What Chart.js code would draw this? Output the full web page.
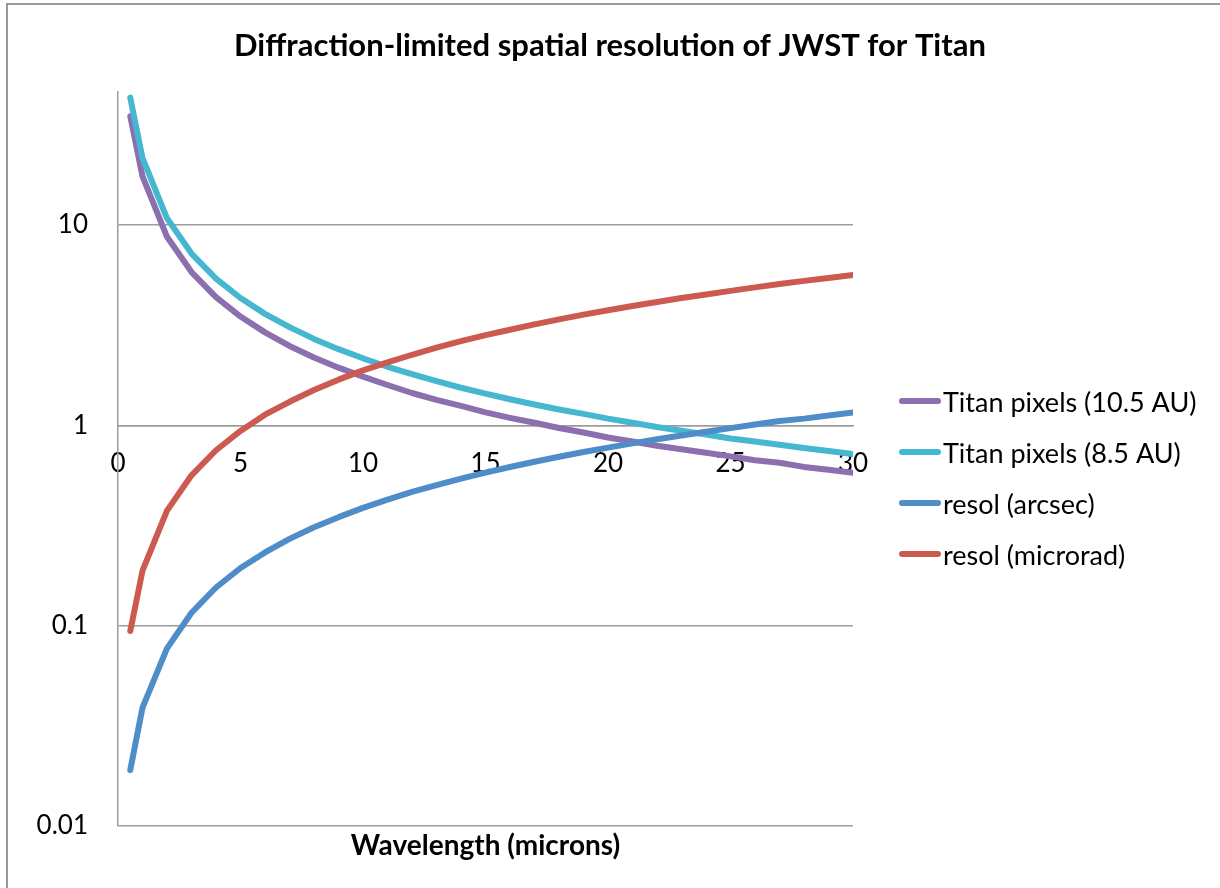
<!DOCTYPE html>
<html>
<head>
<meta charset="utf-8">
<script src="https://cdn.jsdelivr.net/npm/chart.js@4.4.1/dist/chart.umd.min.js"></script>
<style>
  html, body { margin: 0; padding: 0; background: #fff; }
  #wrap { width: 1220px; height: 888px; position: relative; }
</style>
</head>
<body>
<div id="wrap"><canvas id="chart" width="1220" height="888"></canvas></div>
<script>
// Wavelength in microns (x values)
const wavelengths = [0.5, 1, 2, 3, 4, 5, 6, 7, 8, 9, 10, 11, 12, 13, 14, 15,
  16, 17, 18, 19, 20, 21, 22, 23, 24, 25, 26, 27, 28, 29, 30];

// Series
const titanPixels105 = [34.9, 17.5, 8.73, 5.82, 4.36, 3.49, 2.91, 2.49, 2.18, 1.94, 1.75,
  1.59, 1.45, 1.34, 1.25, 1.16, 1.09, 1.03, 0.97, 0.92, 0.87, 0.83, 0.79, 0.76,
  0.73, 0.70, 0.67, 0.65, 0.62, 0.60, 0.58];
const titanPixels85 = [43.2, 21.6, 10.8, 7.2, 5.4, 4.32, 3.6, 3.09, 2.7, 2.4, 2.16,
  1.96, 1.8, 1.66, 1.54, 1.44, 1.35, 1.27, 1.2, 1.14, 1.08, 1.03, 0.98, 0.94,
  0.90, 0.86, 0.83, 0.80, 0.77, 0.745, 0.72];
const resolArcsec = [0.019, 0.039, 0.077, 0.116, 0.155, 0.194, 0.232, 0.271, 0.310, 0.348, 0.387,
  0.426, 0.465, 0.503, 0.542, 0.581, 0.619, 0.658, 0.697, 0.736, 0.774, 0.813,
  0.852, 0.890, 0.929, 0.968, 1.01, 1.05, 1.08, 1.12, 1.16];
const resolMicrorad = [0.094, 0.188, 0.375, 0.563, 0.751, 0.938, 1.13, 1.31, 1.50, 1.69, 1.88,
  2.06, 2.25, 2.44, 2.63, 2.82, 3.00, 3.19, 3.38, 3.57, 3.75, 3.94, 4.13, 4.32,
  4.50, 4.69, 4.88, 5.07, 5.26, 5.44, 5.63];

const seriesLabels = ['Titan pixels (10.5 AU)', 'Titan pixels (8.5 AU)', 'resol (arcsec)', 'resol (microrad)'];
const yTickValues = [0.01, 0.1, 1, 10];
const xTickLabels = [0, 5, 10, 15, 20, 25, 30];

const colors = {
  purple: '#8B6FAF',
  cyan: '#45B7D1',
  blue: '#4F8DC9',
  red: '#CD5A51',
  grid: '#9c9c9c'
};

const FONT = 'Lato, "Open Sans", sans-serif';

function toPoints(values) {
  return wavelengths.map((x, i) => ({ x: x, y: values[i] }));
}

function makeSeries(label, values, color, order) {
  return {
    label,
    data: toPoints(values),
    xAxisID: 'x',
    yAxisID: 'y',
    borderColor: color,
    backgroundColor: color,
    borderWidth: 6,
    borderCapStyle: 'round',
    borderJoinStyle: 'round',
    pointRadius: 0,
    tension: 0,
    fill: false,
    order
  };
}

// white background + outer frame
const frame = {
  id: 'frame',
  beforeDraw(chart) {
    const c = chart.ctx;
    c.save();
    c.fillStyle = '#fff';
    c.fillRect(0, 0, chart.width, chart.height);
    c.strokeStyle = '#9a9a9a';
    c.lineWidth = 2;
    c.strokeRect(7, 4, chart.width + 20, chart.height + 20);
    c.restore();
  }
};

// Excel style legend on the right
const sideLegend = {
  id: 'sideLegend',
  afterDraw(chart) {
    const c = chart.ctx;
    c.save();
    c.font = '27px ' + FONT;
    c.textBaseline = 'middle';
    c.fillStyle = '#000';
    chart.data.datasets.forEach((ds, i) => {
      const y = 401 + i * 51;
      c.strokeStyle = ds.borderColor;
      c.lineWidth = 6;
      c.lineCap = 'round';
      c.beginPath();
      c.moveTo(902, y);
      c.lineTo(938, y);
      c.stroke();
      c.fillText(ds.label, 943, y + 2);
    });
    c.restore();
  }
};

new Chart(document.getElementById('chart'), {
  type: 'line',
  data: {
    datasets: [
      makeSeries(seriesLabels[0], titanPixels105, colors.purple, 3),
      makeSeries(seriesLabels[1], titanPixels85, colors.cyan, 2),
      makeSeries(seriesLabels[2], resolArcsec, colors.blue, 1),
      makeSeries(seriesLabels[3], resolMicrorad, colors.red, 0)
    ]
  },
  options: {
    responsive: false,
    animation: false,
    layout: { padding: 0 },
    plugins: {
      legend: { display: false },
      tooltip: { enabled: false },
      title: {
        display: true,
        text: 'Diffraction-limited spatial resolution of JWST for Titan',
        color: '#000',
        font: { family: FONT, size: 31, weight: 'bold' },
        padding: { top: 27, bottom: 28 }
      }
    },
    scales: {
      x: {
        type: 'linear',
        position: { y: 1 },
        min: 0,
        max: 30,
        afterBuildTicks: scale => {
          scale.ticks = xTickLabels.map(v => ({ value: v }));
        },
        grid: { display: false },
        border: { display: true, color: colors.grid, width: 1.5 },
        ticks: {
          color: '#000',
          font: { family: FONT, size: 26 },
          padding: 15,
          maxRotation: 0,
          callback: v => String(v)
        }
      },
      y: {
        type: 'logarithmic',
        position: 'left',
        min: 0.01,
        max: 46,
        afterBuildTicks: scale => {
          scale.ticks = yTickValues.map(v => ({ value: v }));
        },
        afterFit: scale => { scale.width = 118; },
        grid: { color: colors.grid, lineWidth: 1.5, drawTicks: false },
        border: { display: true, color: colors.grid, width: 1.5 },
        ticks: {
          color: '#000',
          font: { family: FONT, size: 26 },
          padding: 30,
          callback: v => String(v)
        }
      },
      xTitle: {
        type: 'linear',
        axis: 'x',
        position: 'bottom',
        min: 0,
        max: 30,
        grid: { display: false },
        border: { display: false },
        ticks: { display: false },
        title: {
          display: true,
          text: 'Wavelength (microns)',
          color: '#000',
          font: { family: FONT, size: 28, weight: 'bold' },
          padding: { top: 25, bottom: 25 }
        },
        afterFit: scale => { scale.height = 62; }
      },
      // empty right-hand box that leaves room for the legend
      legendSpace: {
        type: 'linear',
        axis: 'y',
        position: 'right',
        min: 0,
        max: 1,
        grid: { display: false },
        border: { display: false },
        ticks: { display: false },
        afterFit: scale => { scale.width = 367; }
      }
    }
  },
  plugins: [frame, sideLegend]
});
</script>
</body>
</html>
